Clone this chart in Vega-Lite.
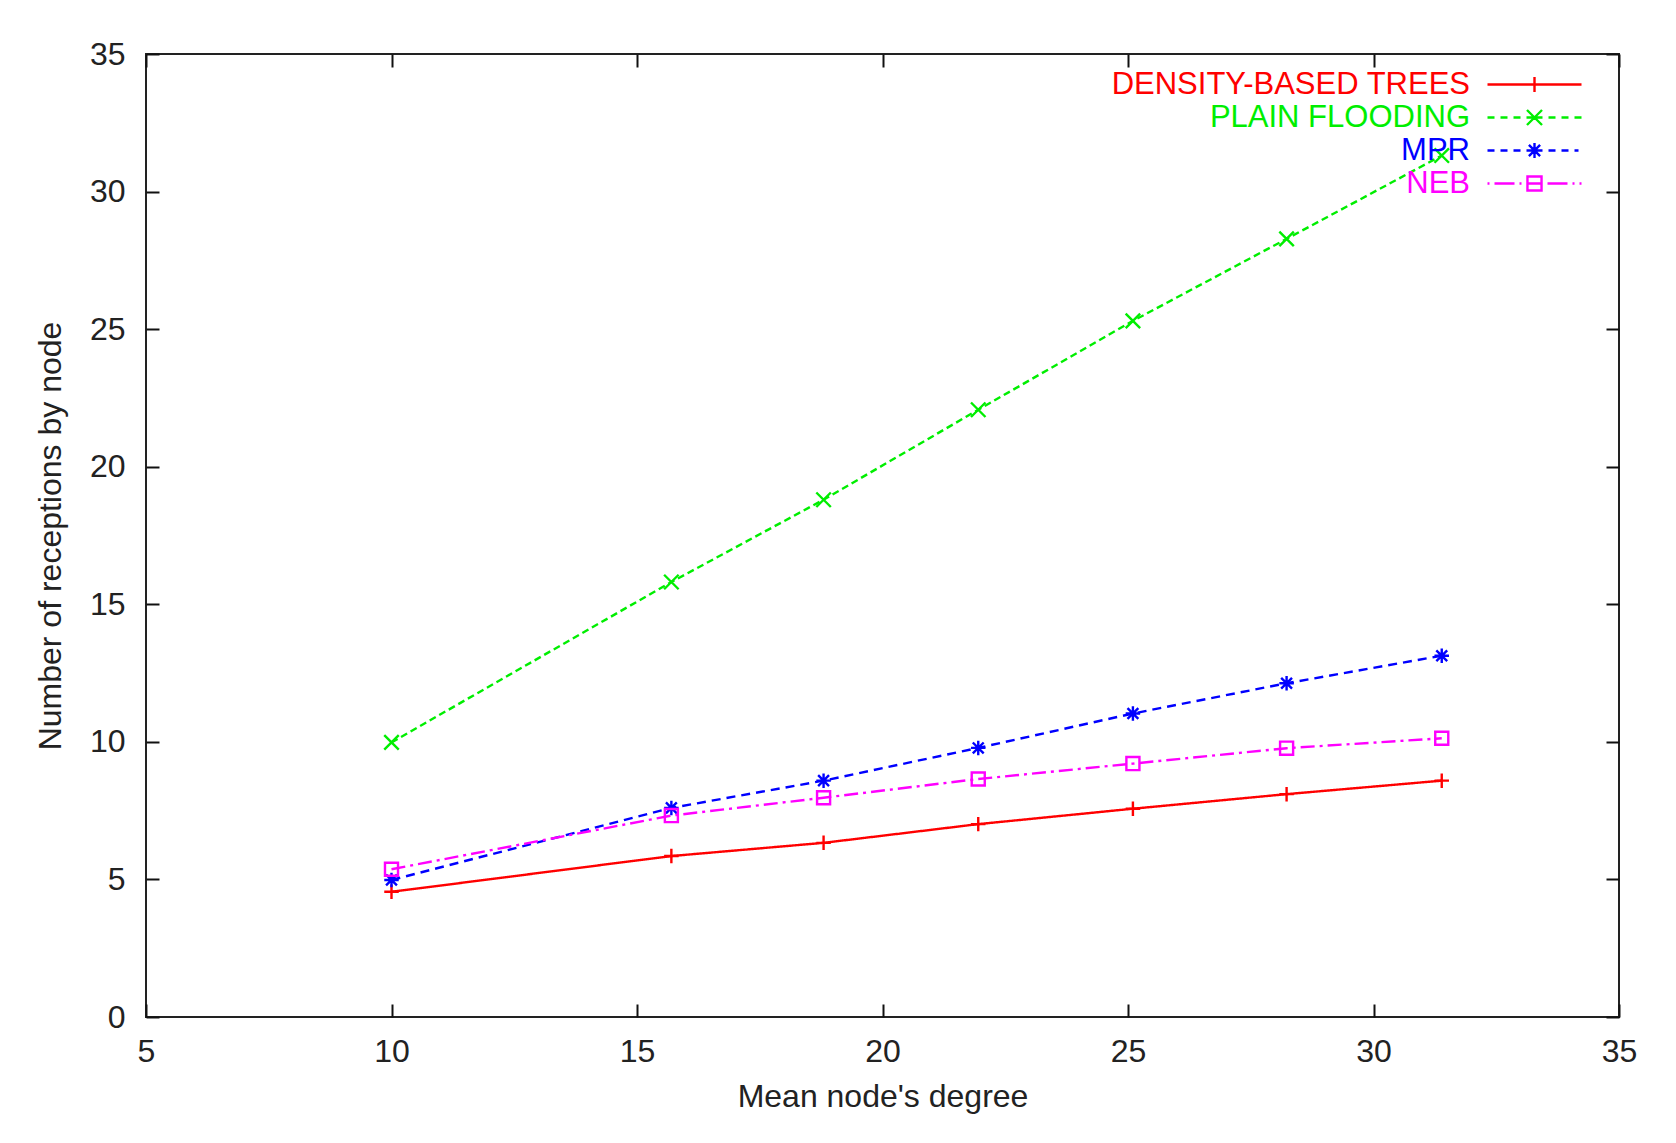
{
  "$schema": "https://vega.github.io/schema/vega-lite/v6.json",
  "width": 1473,
  "height": 963,
  "autosize": {"type": "none"},
  "padding": {"left": 146, "top": 54, "right": 57, "bottom": 126},
  "background": "white",
  "config": {
    "view": {"stroke": "#222", "strokeWidth": 2},
    "font": "Liberation Sans",
    "axis": {
      "grid": false,
      "domain": false,
      "tickColor": "#111",
      "tickWidth": 2,
      "tickSize": -13,
      "labelFlush": false,
      "labelFont": "Liberation Sans",
      "labelFontSize": 32,
      "labelColor": "#222",
      "titleFont": "Liberation Sans",
      "titleFontSize": 32,
      "titleFontWeight": "normal",
      "titleColor": "#222"
    }
  },
  "data": {
    "values": [
      {"series": "DENSITY-BASED TREES", "degree": 10.0, "receptions": 4.55},
      {"series": "DENSITY-BASED TREES", "degree": 15.7, "receptions": 5.85},
      {"series": "DENSITY-BASED TREES", "degree": 18.8, "receptions": 6.33},
      {"series": "DENSITY-BASED TREES", "degree": 21.95, "receptions": 7.01},
      {"series": "DENSITY-BASED TREES", "degree": 25.1, "receptions": 7.57},
      {"series": "DENSITY-BASED TREES", "degree": 28.23, "receptions": 8.1},
      {"series": "DENSITY-BASED TREES", "degree": 31.39, "receptions": 8.59},
      {"series": "PLAIN FLOODING", "degree": 10.0, "receptions": 9.98},
      {"series": "PLAIN FLOODING", "degree": 15.7, "receptions": 15.81},
      {"series": "PLAIN FLOODING", "degree": 18.8, "receptions": 18.8},
      {"series": "PLAIN FLOODING", "degree": 21.95, "receptions": 22.07},
      {"series": "PLAIN FLOODING", "degree": 25.1, "receptions": 25.3},
      {"series": "PLAIN FLOODING", "degree": 28.23, "receptions": 28.28},
      {"series": "PLAIN FLOODING", "degree": 31.39, "receptions": 31.31},
      {"series": "MPR", "degree": 10.0, "receptions": 4.98},
      {"series": "MPR", "degree": 15.7, "receptions": 7.6},
      {"series": "MPR", "degree": 18.8, "receptions": 8.59},
      {"series": "MPR", "degree": 21.95, "receptions": 9.78},
      {"series": "MPR", "degree": 25.1, "receptions": 11.03},
      {"series": "MPR", "degree": 28.23, "receptions": 12.13},
      {"series": "MPR", "degree": 31.39, "receptions": 13.13},
      {"series": "NEB", "degree": 10.0, "receptions": 5.37},
      {"series": "NEB", "degree": 15.7, "receptions": 7.32},
      {"series": "NEB", "degree": 18.8, "receptions": 7.97},
      {"series": "NEB", "degree": 21.95, "receptions": 8.65},
      {"series": "NEB", "degree": 25.1, "receptions": 9.21},
      {"series": "NEB", "degree": 28.23, "receptions": 9.77},
      {"series": "NEB", "degree": 31.39, "receptions": 10.13}
    ]
  },
  "layer": [
    {
      "mark": {"type": "line", "strokeWidth": 2.4},
      "encoding": {
        "x": {"field": "degree", "type": "quantitative", "scale": {"domain": [5, 35], "nice": false, "zero": false},
              "axis": {"orient": "bottom", "values": [5, 10, 15, 20, 25, 30, 35], "labelPadding": 32, "title": "Mean node's degree", "titlePadding": 14}},
        "y": {"field": "receptions", "type": "quantitative", "scale": {"domain": [0, 35], "nice": false},
              "axis": {"orient": "left", "values": [0, 5, 10, 15, 20, 25, 30, 35], "labelPadding": 34, "title": "Number of receptions by node", "titlePadding": 22}},
        "color": {"field": "series", "type": "nominal",
                  "scale": {"domain": ["DENSITY-BASED TREES", "PLAIN FLOODING", "MPR", "NEB"], "range": ["#ff0000", "#00ee00", "#0000ff", "#ff00ff"]},
                  "legend": null},
        "strokeDash": {"field": "series", "type": "nominal",
                       "scale": {"domain": ["DENSITY-BASED TREES", "PLAIN FLOODING", "MPR", "NEB"], "range": [[1, 0], [7, 4], [9, 6], [14, 5, 3, 5]]},
                       "legend": null}
      }
    },
    {
      "mark": {"type": "point", "filled": false, "size": 210, "strokeWidth": 2.4, "opacity": 1},
      "encoding": {
        "x": {"field": "degree", "type": "quantitative",
              "axis": {"orient": "top", "values": [5, 10, 15, 20, 25, 30, 35], "labels": false, "title": null}},
        "y": {"field": "receptions", "type": "quantitative",
              "axis": {"orient": "right", "values": [0, 5, 10, 15, 20, 25, 30, 35], "labels": false, "title": null}},
        "color": {"field": "series", "type": "nominal",
                  "scale": {"domain": ["DENSITY-BASED TREES", "PLAIN FLOODING", "MPR", "NEB"], "range": ["#ff0000", "#00ee00", "#0000ff", "#ff00ff"]},
                  "legend": null},
        "shape": {"field": "series", "type": "nominal",
                  "scale": {"domain": ["DENSITY-BASED TREES", "PLAIN FLOODING", "MPR", "NEB"],
                            "range": ["M-1,0H1M0,-1V1", "M-1,-1L1,1M-1,1L1,-1", "M-1,0H1M0,-1V1M-0.75,-0.75L0.75,0.75M-0.75,0.75L0.75,-0.75", "M-0.9,-0.9H0.9V0.9H-0.9Z"]},
                  "legend": null}
      }
    },
    {
      "mark": {"type": "point", "filled": false, "size": 1024, "strokeWidth": 2.4, "opacity": 0},
      "encoding": {
        "x": {"field": "degree", "type": "quantitative", "axis": null},
        "y": {"field": "receptions", "type": "quantitative", "axis": null},
        "color": {"field": "series", "type": "nominal",
                  "scale": {"domain": ["DENSITY-BASED TREES", "PLAIN FLOODING", "MPR", "NEB"], "range": ["#ff0000", "#00ee00", "#0000ff", "#ff00ff"]},
                  "legend": {
                    "title": null, "orient": "none", "legendX": 1340, "legendY": 13, "padding": 0,
                    "labelAlign": "right", "labelOffset": -51, "labelLimit": 0,
                    "labelFont": "Liberation Sans", "labelFontSize": 31,
                    "labelColor": {"expr": "datum.value == 'DENSITY-BASED TREES' ? '#ff0000' : datum.value == 'PLAIN FLOODING' ? '#00ee00' : datum.value == 'MPR' ? '#0000ff' : '#ff00ff'"},
                    "symbolOpacity": 1, "symbolStrokeWidth": 2.4, "symbolSize": 1024, "rowPadding": 0
                  }},
        "shape": {"field": "series", "type": "nominal",
                  "scale": {"domain": ["DENSITY-BASED TREES", "PLAIN FLOODING", "MPR", "NEB"],
                            "range": [
                              "M-1,0H4.875M1.9375,-0.47V0.47",
                              "M-1,0H-0.5625M-0.1875,0H0.25M0.625,0H1.0625M1.4375,0H2.4375M2.8125,0H3.25M3.625,0H4.0625M4.4375,0H4.875M1.4675,-0.47L2.4075,0.47M1.4675,0.47L2.4075,-0.47",
                              "M-1,0H-0.5625M-0.1875,0H0.25M0.625,0H1.0625M1.4375,0H2.4375M2.8125,0H3.25M3.625,0H4.0625M4.4375,0H4.6875M1.9375,-0.47V0.47M1.5875,-0.35L2.2875,0.35M1.5875,0.35L2.2875,-0.35",
                              "M-1,0H-0.875M-0.5625,0H0.6875M1.0,0H1.125M1.4375,0H2.4375M1.4975,-0.44H2.3775V0.44H1.4975ZM2.75,0H4.0M4.3125,0H4.4375M4.75,0H4.875"
                            ]},
                  "legend": {"title": null}}
      }
    }
  ],
  "resolve": {
    "scale": {"color": "independent", "shape": "independent", "strokeDash": "independent"},
    "axis": {"x": "independent", "y": "independent"}
  }
}
